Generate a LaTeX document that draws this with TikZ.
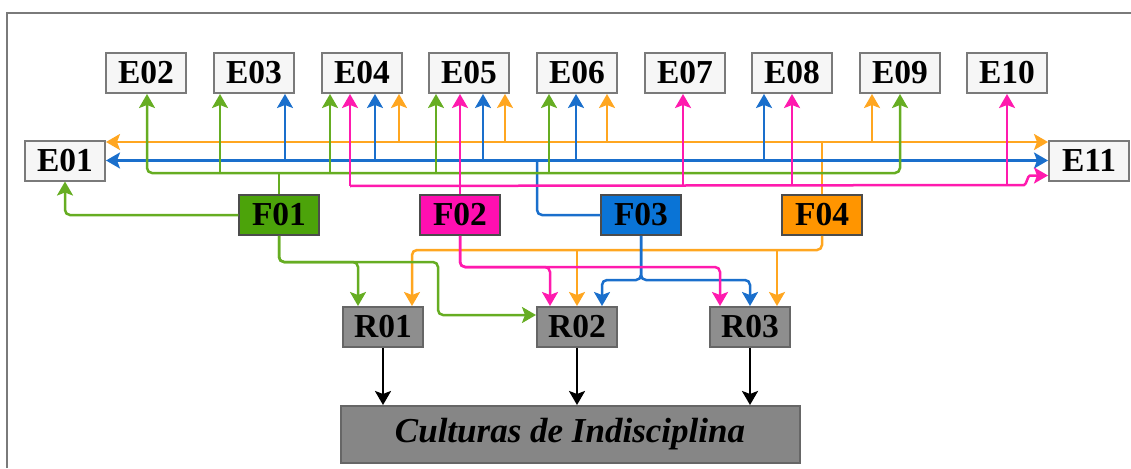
\documentclass[tikz,border=0pt]{standalone}
\usepackage{fontspec}
\setmainfont{Liberation Serif}
\usetikzlibrary{arrows.meta,calc}
\definecolor{gline}{HTML}{66AD22}
\definecolor{gfill}{HTML}{4CA30A}
\definecolor{mline}{HTML}{FF1AAE}
\definecolor{mfill}{HTML}{FF0FB0}
\definecolor{bline}{HTML}{1A6FCC}
\definecolor{bfill}{HTML}{0A74D6}
\definecolor{oline}{HTML}{FFA620}
\definecolor{ofill}{HTML}{FF9500}
\definecolor{rfill}{HTML}{8E8E8E}
\definecolor{cfill}{HTML}{868686}
\definecolor{efill}{HTML}{F6F6F6}
\definecolor{edraw}{HTML}{7A7A7A}
\tikzset{
  ebox/.style={draw=edraw,fill=efill,line width=2pt,minimum width=80pt,minimum height=40pt,inner sep=0pt,
    font=\fontsize{33.5}{33.5}\selectfont\bfseries},
  fbox/.style={draw=black!70,line width=1.5pt,minimum width=80pt,minimum height=40pt,inner sep=0pt,
    font=\fontsize{33.5}{33.5}\selectfont\bfseries},
  rbox/.style={draw=black!60,fill=rfill,line width=2pt,minimum width=80pt,minimum height=40pt,inner sep=0pt,
    font=\fontsize{33.5}{33.5}\selectfont\bfseries},
  conn/.style={line width=2.5pt,rounded corners=5pt,-{Stealth[length=14pt,width=16pt,inset=3pt]}},
  dconn/.style={line width=2.5pt,rounded corners=5pt,{Stealth[length=14pt,width=16pt,inset=3pt]}-{Stealth[length=14pt,width=16pt,inset=3pt]}},
  plain/.style={line width=2.5pt,rounded corners=5pt},
}
\begin{document}
\begin{tikzpicture}[x=1pt,y=-1pt]
\useasboundingbox (0,0) rectangle (1131,468);
\draw[edraw,line width=1.5pt] (7,468) -- (7,13) -- (1131,13);

% E nodes
\node[ebox] (E02) at (146,73) {E02};
\node[ebox] (E03) at (254,73) {E03};
\node[ebox] (E04) at (362,73) {E04};
\node[ebox] (E05) at (469,73) {E05};
\node[ebox] (E06) at (577,73) {E06};
\node[ebox] (E07) at (685,73) {E07};
\node[ebox] (E08) at (792,73) {E08};
\node[ebox] (E09) at (900,73) {E09};
\node[ebox] (E10) at (1007,73) {E10};
\node[ebox] (E01) at (65,160.5) {E01};
\node[ebox] (E11) at (1089,160.5) {E11};

% F nodes
\node[fbox,fill=gfill] (F01) at (279,215) {F01};
\node[fbox,fill=mfill] (F02) at (460,215) {F02};
\node[fbox,fill=bfill] (F03) at (641,215) {F03};
\node[fbox,fill=ofill] (F04) at (822,215) {F04};

% R nodes
\node[rbox] (R01) at (383,327) {R01};
\node[rbox] (R02) at (577,327) {R02};
\node[rbox] (R03) at (750,327) {R03};

\node[draw=black!60,fill=cfill,line width=2pt,minimum width=459pt,minimum height=57pt,inner sep=0pt,
  font=\fontsize{35}{35}\selectfont\bfseries\itshape] (C) at (570,434.5) {Culturas de Indisciplina};

% ---------- orange (y=142) ----------
\draw[dconn,oline] ($(E01.east)+(0,-18.5)$) -- ($(E11.west)+(0,-18.5)$);
\draw[plain,oline] (F04.north) -- ($(F04.north)+(0,-53)$);
\draw[conn,oline] ($(E04.south)+(37,48.5)$) -- ($(E04.south)+(37,0)$);
\draw[conn,oline] ($(E05.south)+(36,48.5)$) -- ($(E05.south)+(36,0)$);
\draw[conn,oline] ($(E06.south)+(30,48.5)$) -- ($(E06.south)+(30,0)$);
\draw[conn,oline] ($(E09.south)+(-28,48.5)$) -- ($(E09.south)+(-28,0)$);
\draw[conn,oline] (F04.south) |- (412,250) -- ($(R01.north)+(29,0)$);
\draw[conn,oline] ($(R02.north)+(0,-57)$) -- (R02.north);
\draw[conn,oline] ($(R03.north)+(27,-57)$) -- ($(R03.north)+(27,0)$);

% ---------- blue (y=160.5) ----------
\draw[dconn,bline] (E01.east) -- (E11.west);
\draw[plain,bline] (F03.west) -| (537,160.5);
\draw[conn,bline] ($(E03.south)+(31,67.5)$) -- ($(E03.south)+(31,0)$);
\draw[conn,bline] ($(E04.south)+(13,67.5)$) -- ($(E04.south)+(13,0)$);
\draw[conn,bline] ($(E05.south)+(14,67.5)$) -- ($(E05.south)+(14,0)$);
\draw[conn,bline] ($(E06.south)+(-1,67.5)$) -- ($(E06.south)+(-1,0)$);
\draw[conn,bline] ($(E08.south)+(-28,67.5)$) -- ($(E08.south)+(-28,0)$);
\draw[conn,bline] (F03.south) |- (602,280) -- ($(R02.north)+(25,0)$);
\draw[conn,bline] (F03.south) |- (750,280) -- (R03.north);

% ---------- green (y=173) ----------
\draw[dconn,gline] ($(E02.south)+(1,0)$) |- (279,173) -| (E09.south);
\draw[plain,gline] (F01.north) -- ($(F01.north)+(0,-22)$);
\draw[conn,gline] ($(E03.south)+(-34,80)$) -- ($(E03.south)+(-34,0)$);
\draw[conn,gline] ($(E04.south)+(-32,80)$) -- ($(E04.south)+(-32,0)$);
\draw[conn,gline] ($(E05.south)+(-33,80)$) -- ($(E05.south)+(-33,0)$);
\draw[conn,gline] ($(E06.south)+(-28,80)$) -- ($(E06.south)+(-28,0)$);
\draw[conn,gline] (F01.west) -| (E01.south);
\draw[conn,gline] (F01.south) |- (358,262) -- ($(R01.north)+(-25,0)$);
\draw[conn,gline] (F01.south) |- (438,262) |- ($(R02.west)+(0,-12)$);

% ---------- magenta (y=185) ----------
\draw[conn,mline] (F02.north) -- ($(E05.south)+(-9,0)$);
\draw[conn,mline,rounded corners=4pt] ($(E04.south)+(-12,92)$) -- (1020,185) to[out=0,in=180] (1034,175.5) -- ($(E11.west)+(0,15)$);
\draw[conn,mline] ($(E04.south)+(-12,92)$) -- ($(E04.south)+(-12,0)$);
\draw[conn,mline] ($(E07.south)+(-2,92)$) -- ($(E07.south)+(-2,0)$);
\draw[conn,mline] ($(E08.south)+(0,92)$) -- (E08.south);
\draw[conn,mline] ($(E10.south)+(0,92)$) -- (E10.south);
\draw[conn,mline] (F02.south) |- (550,267) -- ($(R02.north)+(-27,0)$);
\draw[conn,mline] (F02.south) |- (720,267) -- ($(R03.north)+(-30,0)$);

% ---------- black ----------
\draw[conn,black] (R01.south) -- (R01.south |- C.north);
\draw[conn,black] (R02.south) -- (R02.south |- C.north);
\draw[conn,black] (R03.south) -- (R03.south |- C.north);
\end{tikzpicture}
\end{document}
